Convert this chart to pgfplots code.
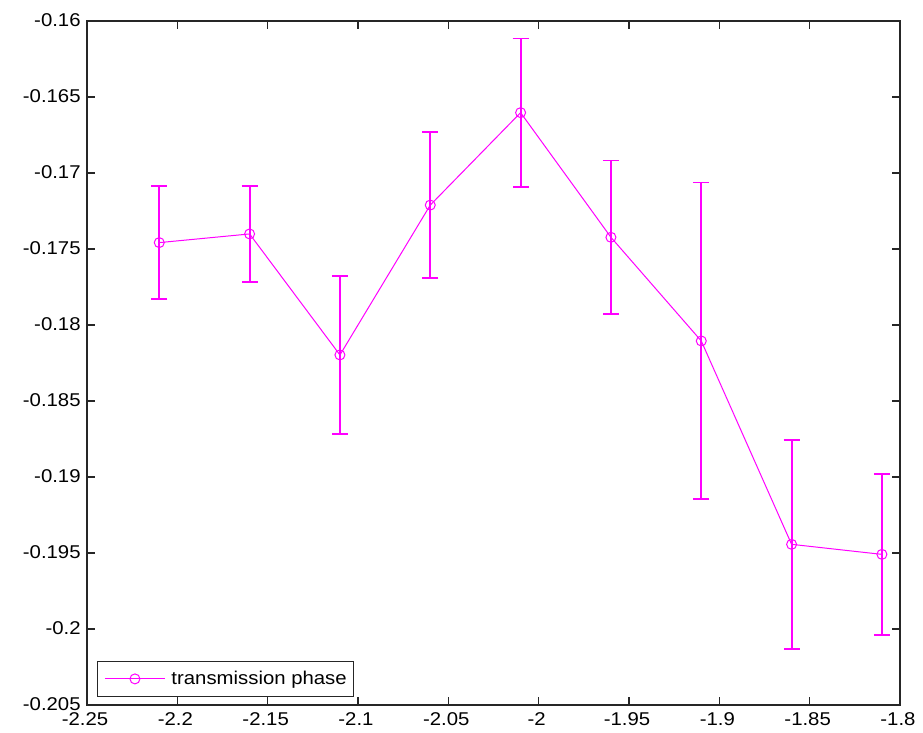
\documentclass[border=0pt]{standalone}
\usepackage{fontspec}
\setmainfont{Liberation Sans}[FakeStretch=1.1]
\usepackage{pgfplots}
\usepackage{pgfplotstable}
\pgfplotsset{compat=1.18}
\definecolor{phasecol}{RGB}{255,0,255}
\definecolor{axiscol}{RGB}{38,38,38}

% transmission phase with symmetric error
\pgfplotstableread{
x      y        e
-2.21  -0.17458 0.00370
-2.16  -0.17401 0.00318
-2.11  -0.18197 0.00521
-2.06  -0.17211 0.00482
-2.01  -0.16603 0.00488
-1.96  -0.17423 0.00505
-1.91  -0.18105 0.01042
-1.86  -0.19443 0.00686
-1.81  -0.19509 0.00531
}\phasedata

\begin{document}
\fontsize{18.5}{21}\selectfont
\begin{tikzpicture}[x=1pt,y=1pt]
\path[use as bounding box] (-87,-28) rectangle (836,705);
\begin{axis}[
  scale only axis,
  width=813pt, height=684pt,
  xmin=-2.25, xmax=-1.8,
  ymin=-0.205, ymax=-0.16,
  xtick={-2.25,-2.2,-2.15,-2.1,-2.05,-2,-1.95,-1.9,-1.85,-1.8},
  xticklabels={-2.25,-2.2,-2.15,-2.1,-2.05,-2,-1.95,-1.9,-1.85,-1.8},
  ytick={-0.205,-0.2,-0.195,-0.19,-0.185,-0.18,-0.175,-0.17,-0.165,-0.16},
  yticklabels={-0.205,-0.2,-0.195,-0.19,-0.185,-0.18,-0.175,-0.17,-0.165,-0.16},
  tick align=inside,
  major tick length=8pt,
  axis line style={line width=1.1pt, axiscol},
  tick style={line width=1.1pt, axiscol},
  xticklabel style={yshift=-1pt, xshift=-2pt},
  yticklabel style={xshift=0pt, yshift=1pt},
  legend style={
    at={(axis description cs:0.0123,0.0125)}, anchor=south west,
    draw=axiscol, line width=0.9pt,
    inner xsep=5pt, inner ysep=7pt,
    font=\fontsize{18.5}{21}\selectfont,
  },
  legend cell align=left,
  legend image code/.code={
    \path (0pt,0pt) (66pt,0pt);
    \draw[mark repeat=2, mark phase=2] plot coordinates {(2pt,0pt) (32pt,0pt) (62pt,0pt)};
  },
]
\addplot[
  color=phasecol, line width=1pt,
  mark=o, mark size=5pt, mark options={line width=1pt},
  error bars/.cd, y dir=both, y explicit,
  error bar style={line width=1.8pt, phasecol},
  error mark options={rotate=90, mark size=8pt, line width=1.8pt, phasecol},
] table[x=x, y=y, y error=e] {\phasedata};
\addlegendentry{transmission phase}
\end{axis}
\end{tikzpicture}
\end{document}
